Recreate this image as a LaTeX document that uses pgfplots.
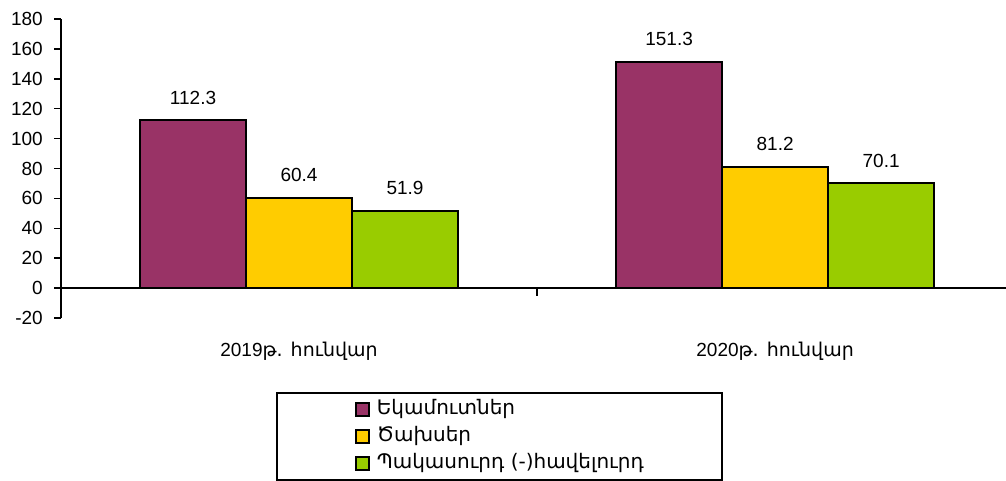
\documentclass[border=0pt]{standalone}
\usepackage{fontspec}
\setmainfont{Liberation Sans}
\newfontfamily\arm{DejaVu Sans}
\usepackage{pgfplots}
\pgfplotsset{compat=1.18}
\definecolor{cA}{HTML}{993366}
\definecolor{cB}{HTML}{FFCC00}
\definecolor{cC}{HTML}{99CC00}
\begin{document}
\fontsize{19}{23}\selectfont
\begin{tikzpicture}
\useasboundingbox (0,0) rectangle (1006pt,480pt);
\begin{axis}[
  at={(61pt,162pt)}, anchor=south west,
  scale only axis, width=945pt, height=299pt,
  xmin=-0.5, xmax=1.485, ymin=-20, ymax=180,
  clip=false,
  axis x line=none,
  axis y line*=left,
  y axis line style={line width=2pt, black},
  ytick={-20,0,...,180},
  tick align=outside,
  major tick length=7pt,
  y tick style={line width=1.5pt, black},
  yticklabel style={font=\fontsize{19}{23}\selectfont, inner sep=0pt, anchor=east, xshift=-11pt},
  /pgf/number format/assume math mode=true,
  ybar=0pt, bar width=106pt,
  nodes near coords,
  nodes near coords style={font=\fontsize{19}{23}\selectfont, anchor=south, inner sep=0pt, yshift=15pt,
    /pgf/number format/.cd, fixed, precision=1, fixed zerofill, assume math mode=true},
  legend style={at={(0.2275,-0.2475)}, anchor=north west, draw=black, /tikz/line width=2pt,
    inner xsep=78pt, inner ysep=7pt, row sep=8pt, column sep=7pt,
    nodes={inner sep=0pt, text height=14pt, text depth=5pt, anchor=west},
    font=\arm\fontsize{20}{24}\selectfont},
  legend cell align=left,
  legend image code/.code={\draw[#1, line width=1.8pt] (0pt,-6.5pt) rectangle (13pt,6.5pt);},
]
\addplot[fill=cA, draw=black, line width=2pt] coordinates {(0,112.3) (1,151.3)};
\addplot[fill=cB, draw=black, line width=2pt] coordinates {(0,60.4) (1,81.2)};
\addplot[fill=cC, draw=black, line width=2pt] coordinates {(0,51.9) (1,70.1)};
\legend{Եկամուտներ, Ծախսեր, Պակասուրդ (-)հավելուրդ}
\draw[line width=1.5pt] (axis cs:-0.5,0) -- (axis cs:1.485,0);
\draw[line width=1.5pt] (axis cs:0.5,0) -- ([yshift=-8pt]axis cs:0.5,0);
\node[anchor=base, inner sep=0pt] at (axis cs:0,-20) [yshift=-38pt] {2019{\arm թ. հունվար}};
\node[anchor=base, inner sep=0pt] at (axis cs:1,-20) [yshift=-38pt] {2020{\arm թ. հունվար}};
\end{axis}
\end{tikzpicture}
\end{document}
